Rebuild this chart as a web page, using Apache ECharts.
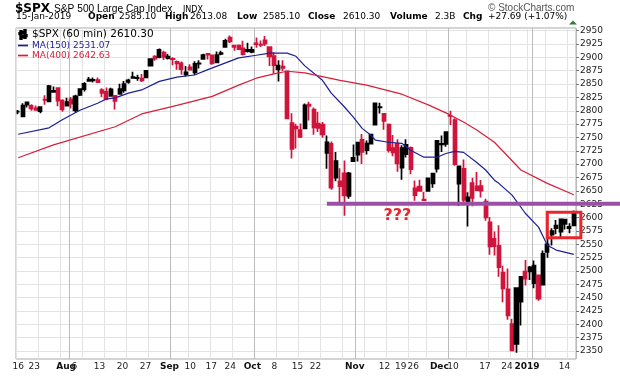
<!DOCTYPE html>
<html><head><meta charset="utf-8">
<script src="https://cdn.jsdelivr.net/npm/echarts@6/dist/echarts.min.js"></script>
<style>html,body{margin:0;padding:0;background:#fff}#c{width:620px;height:376px}</style>
</head><body><div id="c"></div>
<script>
// ---------------- DATA ----------------
const dates = [
'2018-07-16','2018-07-17','2018-07-18','2018-07-19','2018-07-20','2018-07-23','2018-07-24','2018-07-25','2018-07-26','2018-07-27','2018-07-30','2018-07-31',
'2018-08-01','2018-08-02','2018-08-03','2018-08-06','2018-08-07','2018-08-08','2018-08-09','2018-08-10','2018-08-13','2018-08-14','2018-08-15','2018-08-16','2018-08-17','2018-08-20','2018-08-21','2018-08-22','2018-08-23','2018-08-24','2018-08-27','2018-08-28','2018-08-29','2018-08-30','2018-08-31',
'2018-09-04','2018-09-05','2018-09-06','2018-09-07','2018-09-10','2018-09-11','2018-09-12','2018-09-13','2018-09-14','2018-09-17','2018-09-18','2018-09-19','2018-09-20','2018-09-21','2018-09-24','2018-09-25','2018-09-26','2018-09-27','2018-09-28',
'2018-10-01','2018-10-02','2018-10-03','2018-10-04','2018-10-05','2018-10-08','2018-10-09','2018-10-10','2018-10-11','2018-10-12','2018-10-15','2018-10-16','2018-10-17','2018-10-18','2018-10-19','2018-10-22','2018-10-23','2018-10-24','2018-10-25','2018-10-26','2018-10-29','2018-10-30','2018-10-31',
'2018-11-01','2018-11-02','2018-11-05','2018-11-06','2018-11-07','2018-11-08','2018-11-09','2018-11-12','2018-11-13','2018-11-14','2018-11-15','2018-11-16','2018-11-19','2018-11-20','2018-11-21','2018-11-23','2018-11-26','2018-11-27','2018-11-28','2018-11-29','2018-11-30',
'2018-12-03','2018-12-04','2018-12-06','2018-12-07','2018-12-10','2018-12-11','2018-12-12','2018-12-13','2018-12-14','2018-12-17','2018-12-18','2018-12-19','2018-12-20','2018-12-21','2018-12-24','2018-12-26','2018-12-27','2018-12-28','2018-12-31',
'2019-01-02','2019-01-03','2019-01-04','2019-01-07','2019-01-08','2019-01-09','2019-01-10','2019-01-11','2019-01-14','2019-01-15'
];
const opens = [
2798.4,2789.3,2811.4,2809.4,2804.6,2799.2,2820.7,2817.7,2835.5,2842.4,2819.0,2809.7,
2821.2,2800.5,2829.6,2840.3,2855.9,2856.8,2857.2,2838.9,2835.5,2827.9,2827.9,2831.4,2838.3,2853.9,2861.5,2861.0,2860.3,2862.4,2884.7,2901.4,2900.6,2908.9,2898.4,
2897.0,2891.6,2888.6,2868.3,2881.4,2871.6,2888.3,2896.9,2906.4,2903.8,2890.7,2906.6,2919.7,2936.8,2921.8,2921.8,2917.0,2911.7,2910.0,
2926.3,2923.8,2931.7,2919.4,2902.5,2877.5,2882.5,2873.9,2776.9,2770.5,2763.8,2767.1,2811.7,2802.0,2775.7,2773.9,2721.0,2737.9,2674.9,2667.9,2682.7,2640.7,2705.6,
2717.6,2745.5,2726.4,2738.4,2774.1,2806.4,2794.1,2773.9,2730.1,2737.9,2693.5,2718.5,2730.7,2654.6,2657.7,2633.4,2650.0,2663.8,2691.5,2737.0,2737.8,
2790.5,2782.4,2663.5,2691.3,2630.9,2664.4,2658.2,2658.7,2629.7,2590.8,2559.9,2547.1,2496.8,2465.4,2400.6,2363.1,2442.5,2498.8,2498.9,
2477.0,2491.9,2474.3,2535.6,2568.1,2580.0,2573.5,2588.1,2580.3,2585.1
];
const highs = [
2801.2,2814.2,2816.8,2812.1,2809.7,2808.6,2829.0,2848.0,2845.6,2843.2,2821.7,2824.5,
2825.8,2829.9,2840.4,2853.3,2863.4,2862.4,2862.5,2842.2,2843.4,2843.1,2827.9,2850.5,2855.6,2859.8,2873.2,2867.5,2868.8,2876.2,2898.3,2903.8,2916.5,2912.5,2906.3,
2900.2,2894.2,2892.1,2883.8,2886.9,2892.5,2894.7,2906.8,2908.3,2904.6,2911.2,2912.4,2934.8,2940.9,2923.8,2924.0,2931.2,2927.2,2920.5,
2937.1,2931.4,2939.9,2919.8,2909.6,2894.8,2894.8,2874.0,2795.1,2775.8,2776.0,2813.5,2816.9,2806.0,2797.8,2778.9,2753.6,2742.6,2722.7,2692.4,2706.9,2685.4,2736.7,
2741.7,2756.6,2744.3,2756.8,2815.2,2814.8,2794.1,2776.0,2754.6,2746.8,2735.4,2746.8,2733.2,2669.4,2670.7,2647.6,2674.4,2682.5,2744.0,2753.8,2760.9,
2800.2,2785.9,2696.1,2708.5,2647.5,2674.4,2685.4,2670.2,2635.1,2601.1,2574.0,2585.3,2509.6,2504.4,2410.3,2467.8,2489.1,2520.3,2509.2,
2519.5,2493.1,2538.1,2566.2,2579.8,2595.3,2597.8,2596.3,2589.3,2613.1
];
const lows = [
2793.4,2789.2,2805.9,2799.8,2800.0,2795.1,2811.1,2817.7,2835.3,2808.3,2798.1,2808.1,
2804.0,2796.3,2827.4,2836.0,2855.9,2853.1,2852.0,2825.8,2819.9,2826.6,2802.5,2831.4,2833.7,2850.6,2861.3,2856.1,2854.0,2862.4,2884.7,2893.5,2898.4,2895.2,2895.8,
2885.1,2876.9,2867.3,2864.1,2875.9,2866.8,2879.2,2896.4,2895.8,2886.2,2890.4,2903.8,2919.7,2927.1,2912.6,2913.7,2903.3,2909.3,2907.5,
2917.9,2919.4,2921.4,2883.9,2869.3,2855.0,2874.3,2784.9,2710.5,2729.4,2749.0,2766.9,2781.8,2755.2,2760.3,2749.2,2691.4,2651.9,2667.8,2628.2,2603.5,2635.3,2705.6,
2705.0,2700.4,2717.9,2737.1,2774.1,2795.0,2764.2,2722.0,2715.0,2685.8,2670.8,2712.2,2681.1,2631.5,2649.8,2631.1,2650.0,2655.9,2684.4,2722.9,2732.8,
2773.4,2697.2,2621.5,2623.1,2583.2,2621.3,2650.3,2637.3,2593.8,2530.5,2528.7,2489.0,2441.2,2408.6,2351.1,2346.6,2397.9,2472.9,2482.8,
2467.5,2444.0,2474.3,2524.6,2547.6,2568.9,2562.0,2577.4,2570.4,2585.1
];
const closes = [
2798.4,2809.6,2815.6,2804.5,2801.8,2807.0,2820.4,2846.1,2837.4,2818.8,2802.6,2816.3,
2813.4,2827.2,2840.4,2850.4,2858.5,2857.7,2853.6,2833.3,2821.9,2840.0,2818.4,2840.7,2850.1,2857.1,2863.0,2861.8,2857.0,2874.7,2896.7,2897.5,2914.0,2901.1,2901.5,
2896.7,2888.6,2878.1,2871.7,2877.1,2887.9,2888.9,2904.2,2905.0,2888.8,2904.3,2908.0,2930.8,2929.7,2919.4,2915.6,2906.0,2914.0,2914.0,
2924.6,2923.4,2925.5,2901.6,2885.6,2884.4,2880.3,2785.7,2728.4,2767.1,2750.8,2809.9,2809.2,2768.8,2767.8,2755.9,2740.7,2656.1,2705.6,2658.7,2641.3,2682.6,2711.7,
2740.4,2723.1,2738.3,2755.5,2813.9,2806.8,2781.0,2726.2,2722.2,2701.6,2730.2,2736.3,2690.7,2641.9,2649.9,2632.6,2673.5,2682.2,2743.8,2737.8,2760.2,
2790.4,2700.1,2696.0,2633.1,2637.7,2636.8,2651.1,2650.5,2600.0,2545.9,2546.2,2507.0,2467.4,2416.6,2351.1,2467.7,2488.8,2485.7,2506.9,
2510.0,2447.9,2531.9,2549.7,2574.4,2585.0,2596.6,2596.3,2582.6,2610.3
];
// moving averages: [day, value]
const ma150 = [
['2018-07-16',2756],['2018-07-25',2768],['2018-07-30',2783],['2018-08-03',2801],['2018-08-09',2814],['2018-08-13',2822],['2018-08-15',2824],
['2018-08-20',2833],['2018-08-23',2839],['2018-08-29',2855],['2018-09-05',2863],['2018-09-11',2867],['2018-09-14',2877],['2018-09-25',2899],
['2018-10-01',2904],['2018-10-04',2908],['2018-10-10',2908],['2018-10-12',2902],['2018-10-16',2884],['2018-10-22',2857],['2018-10-24',2833],
['2018-10-29',2807],['2018-10-31',2788],['2018-11-02',2767],['2018-11-06',2754],['2018-11-07',2745],['2018-11-12',2741],['2018-11-15',2739],
['2018-11-19',2726],['2018-11-23',2713],['2018-11-28',2713],['2018-11-30',2720],['2018-12-04',2724],['2018-12-07',2722],['2018-12-12',2703],
['2018-12-14',2689],['2018-12-18',2670],['2018-12-19',2664],['2018-12-24',2642],['2018-12-28',2608],['2019-01-03',2582],['2019-01-07',2548],
['2019-01-09',2539],['2019-01-15',2531.07]
];
const ma400 = [
['2018-07-16',2712],['2018-07-26',2736],['2018-08-15',2770],['2018-08-23',2794],['2018-09-05',2810],['2018-09-17',2827],['2018-09-25',2848],
['2018-10-01',2861],['2018-10-05',2869],['2018-10-10',2874],['2018-10-16',2871],['2018-10-26',2857],['2018-11-05',2848],['2018-11-15',2831],
['2018-11-26',2811],['2018-11-30',2796],['2018-12-07',2779],['2018-12-12',2764],['2018-12-18',2741],['2018-12-27',2689],['2019-01-07',2664],
['2019-01-15',2642.63]
];
const lastValues = {'$SPX (60 min)':'2610.30','MA(150)':'2531.07','MA(400)':'2642.63'};
const yTicks = [2350,2375,2400,2425,2450,2475,2500,2525,2550,2575,2600,2625,2650,2675,2700,2725,2750,2775,2800,2825,2850,2875,2900,2925,2950];
const xLabelDays = ['2018-07-16','2018-07-23','2018-08-01','2018-08-06','2018-08-13','2018-08-20','2018-08-27','2018-09-04','2018-09-10','2018-09-17','2018-09-24','2018-10-01','2018-10-08','2018-10-15','2018-10-22','2018-11-01','2018-11-12','2018-11-19','2018-11-26','2018-12-03','2018-12-10','2018-12-17','2018-12-24','2019-01-02','2019-01-14'];
const xLabelTexts = ['16','23','Aug','6','13','20','27','Sep','10','17','24','Oct','8','15','22','Nov','12','19','26','Dec','10','17','24','2019','14'];
const weekStarts = ['2018-07-16','2018-07-23','2018-07-30','2018-08-06','2018-08-13','2018-08-20','2018-08-27','2018-09-04','2018-09-10','2018-09-17','2018-09-24','2018-10-01','2018-10-08','2018-10-15','2018-10-22','2018-10-29','2018-11-05','2018-11-12','2018-11-19','2018-11-26','2018-12-03','2018-12-10','2018-12-17','2018-12-24','2018-12-31','2019-01-07','2019-01-14'];
const monthStarts = ['2018-08-01','2018-09-04','2018-10-01','2018-11-01','2018-12-03','2019-01-02'];
// annotations (drawn by the chart author)
const supportLevel = 2626, supportFrom = '2018-10-23';
const boxFrom = '2019-01-07', boxTop = 2610, boxBottom = 2562;
const questionDay = '2018-11-14', questionLevel = 2604;
const header = {sym:'$SPX', name:'S&P 500 Large Cap Index', exch:'INDX', date:'15-Jan-2019', open:'2585.10', high:'2613.08', low:'2585.10', close:'2610.30', volume:'2.3B', chg:'+27.69 (+1.07%)'};

// ---------------- STYLE / LAYOUT ----------------
const xLabelShift = [0,6,5,10,7,6,5,3,0,1,4,4,4,3,7,3,4,10,15,11,15,5,5,7,5];
const BLUE = '#1c1f96', RED = '#d81e3a', DOWN = '#d0143c';
const F = '"DejaVu Sans", Verdana, sans-serif';
const A = '"Liberation Sans", Arial, sans-serif';
const rich = {};
for (let s = 0; s <= 16; s++) {
  rich['n' + s] = {padding: [0, 2 * s, 0, 0], fontFamily: F, fontSize: 9, color: '#222'};
  rich['b' + s] = {padding: [0, 2 * s, 0, 0], fontFamily: F, fontSize: 9, fontWeight: 'bold', color: '#111'};
}
const labelIdx = {}; xLabelDays.forEach((d, i) => labelIdx[d] = i);
const weekSet = new Set(weekStarts), monthSet = new Set(monthStarts);

const chart = echarts.init(document.getElementById('c'), null, {renderer: 'canvas'});
const candleData = dates.map((d, i) => [opens[i], closes[i], lows[i], highs[i]]);

chart.setOption({
  animation: false,
  backgroundColor: '#fff',
  grid: {left: 16, right: 44, top: 28, bottom: 17, show: true, borderColor: '#a9a9a9', borderWidth: 1},
  legend: {
    orient: 'vertical', left: 18, top: 29, itemGap: 1, itemWidth: 10, itemHeight: 9, padding: 0,
    selectedMode: false,
    formatter: n => n + ' ' + lastValues[n],
    textStyle: {fontFamily: F, fontSize: 9, padding: [0, 0, 0, -1]},
    data: [
      {name: '$SPX (60 min)', icon: 'path://M1,1h1.4v8h-1.4zM0,3h1v1.2h-1zM2.4,6h1v1.2h-1zM5,0h1.4v8h-1.4zM4,2h1v1.2h-1zM6.4,5h1v1.2h-1z', itemStyle: {color: '#000'}, textStyle: {color: '#000', fontSize: 10.5}},
      {name: 'MA(150)', icon: 'path://M0,0h10v1.7h-10z', itemStyle: {color: BLUE}, textStyle: {color: BLUE}},
      {name: 'MA(400)', icon: 'path://M0,0h10v1.7h-10z', itemStyle: {color: RED}, textStyle: {color: RED}}
    ]
  },
  xAxis: [{
    type: 'category', data: dates, boundaryGap: true,
    axisLine: {show: false}, axisTick: {show: false},
    axisLabel: {
      margin: 3, hideOverlap: false,
      interval: (i, v) => v in labelIdx,
      formatter: v => {
        const i = labelIdx[v]; if (i === undefined) return '';
        const t = xLabelTexts[i]; const bold = /^[A-Z]/.test(t) || t.length === 4;
        return '{' + (bold ? 'b' : 'n') + xLabelShift[i] + '|' + t + '}';
      },
      rich: rich
    },
    splitLine: {show: true, interval: (i, v) => weekSet.has(v) && !monthSet.has(v), lineStyle: {color: '#e3e3e3', width: 1}}
  }, {
    type: 'category', data: dates, boundaryGap: true, position: 'bottom',
    axisLine: {show: false}, axisTick: {show: false}, axisLabel: {show: false},
    splitLine: {show: true, interval: (i, v) => monthSet.has(v), lineStyle: {color: '#bcbcbc', width: 1}}
  }],
  yAxis: {
    type: 'value', position: 'right', min: 2335, max: 2955, scale: true,
    axisLine: {show: false},
    axisTick: {show: true, length: 3, customValues: yTicks, lineStyle: {color: '#777'}},
    axisLabel: {customValues: yTicks, margin: 4, fontFamily: F, fontSize: 9, color: '#222', formatter: v => String(Math.round(v))},
    splitLine: {show: true, lineStyle: {color: '#e3e3e3'}}
  },
  series: [
    {name: '$SPX (60 min)', type: 'candlestick', data: candleData, barWidth: 3.6, z: 2,
     itemStyle: {color: '#000', color0: DOWN, borderColor: '#000', borderColor0: DOWN, borderWidth: 1.7}},
    {name: 'MA(150)', type: 'line', data: ma150, showSymbol: false, symbol: 'none', z: 3,
     lineStyle: {color: BLUE, width: 1.2}, itemStyle: {color: BLUE}},
    {name: 'MA(400)', type: 'line', data: ma400, showSymbol: false, symbol: 'none', z: 3,
     lineStyle: {color: RED, width: 1.2}, itemStyle: {color: RED}}
  ]
});

// ---------------- TEXT + ANNOTATIONS ----------------
function t(x, y, text, font, fill) {
  return {type: 'text', x: x, y: y, z: 50, style: {text: text, font: font, fill: fill || '#000', verticalAlign: 'middle'}};
}
const B9 = 'bold 9px ' + F, N9 = '9px ' + F;
const g = [
  t(15, 8.5, header.sym, 'bold 12px ' + F),
  t(54, 9, header.name, '10.2px ' + A),
  t(183, 9.5, header.exch, '8px ' + F),
  t(16, 16.8, header.date, N9),
  t(88, 16.8, 'Open', B9), t(119, 16.8, header.open, N9),
  t(165, 16.8, 'High', B9), t(190, 16.8, header.high, N9),
  t(237, 16.8, 'Low', B9), t(263, 16.8, header.low, N9),
  t(308, 16.8, 'Close', B9), t(343, 16.8, header.close, N9),
  t(390, 16.8, 'Volume', B9), t(435, 16.8, header.volume, N9),
  t(463, 16.8, 'Chg', B9), t(488, 16.8, header.chg, N9),
  t(488, 8.5, '\u00A9 StockCharts.com', '10px ' + A, '#555'),
  {type: 'polygon', z: 50, shape: {points: [[569, 24.5], [577, 24.5], [573, 20.5]]}, style: {fill: '#2e7d32'}}
];
const p0 = chart.convertToPixel({seriesIndex: 0}, [supportFrom, supportLevel]);
g.push({type: 'line', z: 60, shape: {x1: p0[0], y1: p0[1], x2: chart.getWidth(), y2: p0[1]}, style: {stroke: '#9c4fa6', lineWidth: 4}});
const pa = chart.convertToPixel({seriesIndex: 0}, [boxFrom, boxTop]);
const pb = chart.convertToPixel({seriesIndex: 0}, [dates[dates.length - 1], boxBottom]);
const pc = chart.convertToPixel({seriesIndex: 0}, [dates[dates.length - 2], boxBottom]);
const band = pb[0] - pc[0];
g.push({type: 'rect', z: 60, shape: {x: pa[0], y: pa[1], width: pb[0] + 1.6 * band - pa[0], height: pb[1] - pa[1]}, style: {fill: 'none', stroke: '#e8262b', lineWidth: 3}});
const pq = chart.convertToPixel({seriesIndex: 0}, [questionDay, questionLevel]);
g.push({type: 'text', z: 60, x: pq[0], y: pq[1], style: {text: '???', font: 'bold 16px ' + F, fill: '#e8262b', align: 'center', verticalAlign: 'middle'}});
chart.setOption({graphic: g});
</script>
</body></html>
